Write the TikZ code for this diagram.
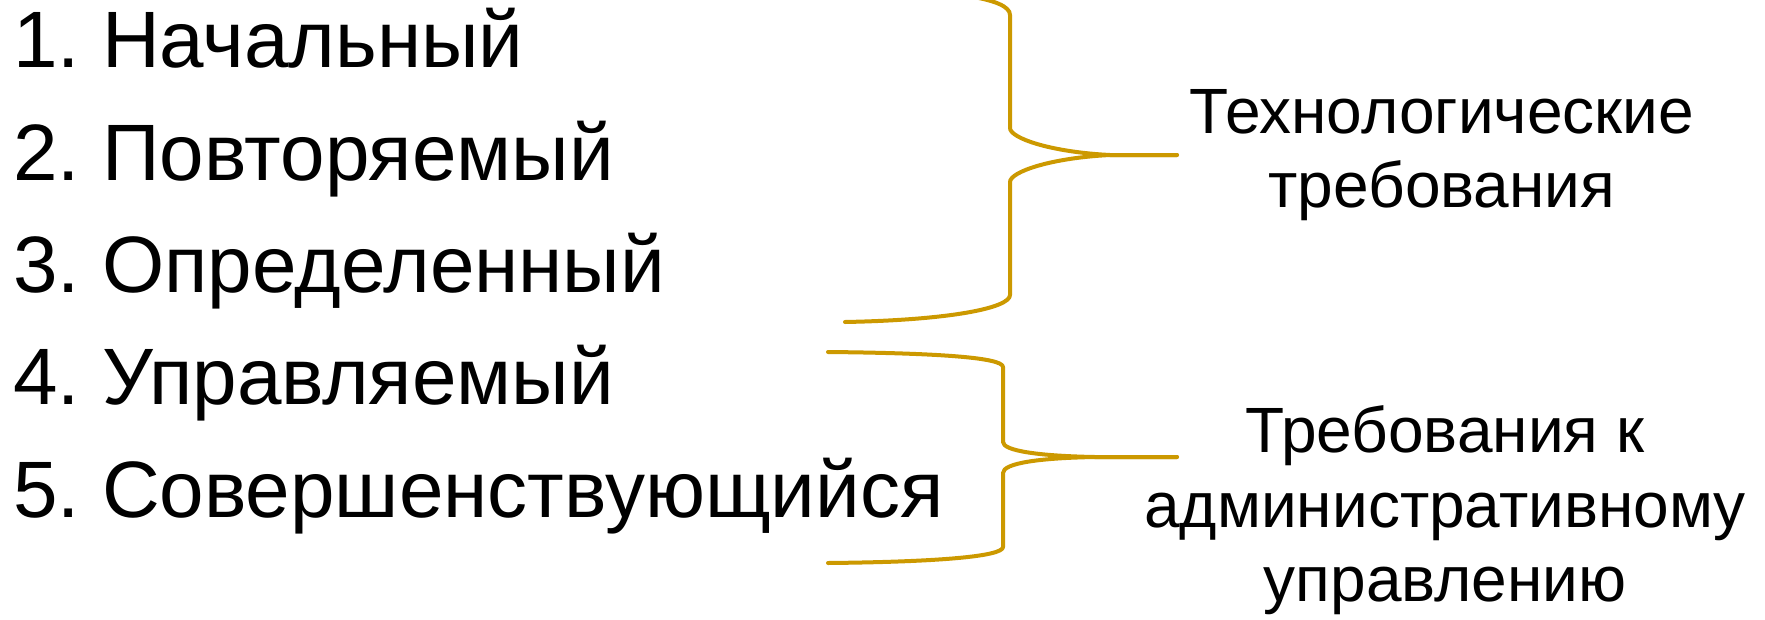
\documentclass[tikz,border=0pt]{standalone}
\usepackage{fontspec}
\setmainfont{Liberation Sans}
\definecolor{bracegold}{HTML}{CC9900}
\begin{document}
\frenchspacing
\begin{tikzpicture}[x=1pt,y=-1pt,
  item/.style={anchor=base west,inner sep=0pt,font=\fontsize{80}{92}\selectfont},
  lbl/.style={anchor=base,inner sep=0pt,font=\fontsize{64}{74}\selectfont},
  bracestroke/.style={draw=bracegold,line width=4pt,line cap=round,line join=round}]
\useasboundingbox[fill=white] (0,0) rectangle (1765,619);
% list
\node[item] (l1) at (13,67)  {1. Начальный};
\node[item] (l2) at (13,180) {2. Повторяемый};
\node[item] (l3) at (13,292) {3. Определенный};
\node[item] (l4) at (13,404) {4. Управляемый};
\node[item] (l5) at (13,517) {5. Совершенствующийся};
% right labels
\node[lbl] (t1a) at (1442,133) {Технологические};
\node[lbl] (t1b) at (1442,207) {требования};
\node[lbl] (t2a) at (1445,452) {Требования к};
\node[lbl] (t2b) at (1445,527) {административному};
\node[lbl] (t2c) at (1445,601) {управлению};
% brace 1
\coordinate (b1top) at (845,-12);
\coordinate (b1bot) at (845,322);
\coordinate (b1tip) at (1177,155);
\draw[bracestroke] (b1top) .. controls (950,-10) and (1010,-2) .. (1010,15)
  -- (1010,128) .. controls (1010,138) and (1050,152) .. (1110,155)
  -- (b1tip);
\draw[bracestroke] (b1tip) -- (1110,155)
  .. controls (1050,158) and (1010,172) .. (1010,182)
  -- (1010,295) .. controls (1010,308) and (950,320) .. (b1bot);
% brace 2
\coordinate (b2top) at (828,352);
\coordinate (b2bot) at (828,563);
\coordinate (b2tip) at (1177,457);
\draw[bracestroke] (b2top) .. controls (930,353) and (1003,357) .. (1003,367)
  -- (1003,442) .. controls (1003,451) and (1040,456) .. (1095,457)
  -- (b2tip);
\draw[bracestroke] (b2tip) -- (1095,457)
  .. controls (1040,458) and (1003,463) .. (1003,473)
  -- (1003,547) .. controls (1003,557) and (930,562) .. (b2bot);
\end{tikzpicture}
\end{document}
